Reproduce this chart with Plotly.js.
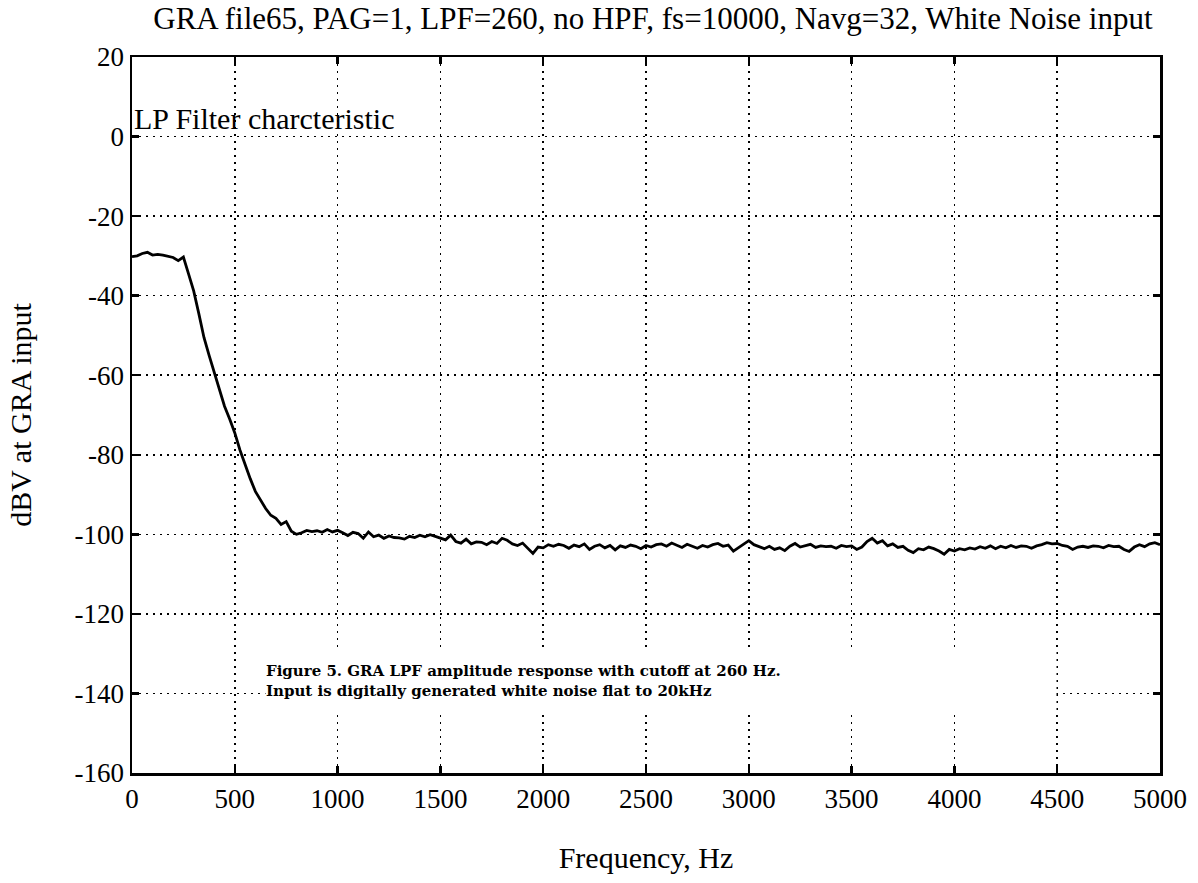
<!DOCTYPE html>
<html>
<head>
<meta charset="utf-8">
<script src="https://cdn.plot.ly/plotly-3.0.1.min.js"></script>
<style>
html,body{margin:0;padding:0;background:#fff;}
#chart{width:1198px;height:883px;}
</style>
</head>
<body>
<div id="chart"></div>
<script>
// Frequency grid: starts at 0 Hz, one value every 25 Hz up to 5000 Hz
const freqStart = 0;
const freqStep = 25;

// dBV at GRA input (0, 25, 50, ... 5000 Hz)
const dbv = [
  -30.2, -30.0, -29.4, -29.1, -29.8, -29.6, -29.8, -30.1, -30.4, -31.2,   // 0-225
  -30.3, -34.5, -38.8, -44.5, -50.5, -55.0, -59.3, -63.5, -67.8, -71.0,   // 250-475
  -74.5, -78.8, -82.5, -86.0, -89.2, -91.5, -93.5, -95.2, -96.0, -97.5,   // 500-725
  -96.8, -99.2, -100.0, -99.6, -99.0, -99.3, -99.1, -99.5, -98.8, -99.4,  // 750-975
  -99.0, -99.6, -100.3, -99.5, -99.8, -101.0, -99.4, -100.6, -100.2, -101.0, // 1000-1225
  -100.4, -100.8, -100.9, -101.2, -100.5, -100.8, -100.2, -100.6, -100.1, -100.5, // 1250-1475
  -100.9, -101.4, -100.2, -101.8, -102.2, -101.2, -102.4, -101.9, -102.0, -102.6, // 1500-1725
  -101.8, -102.3, -101.0, -101.5, -102.4, -102.8, -102.2, -103.4, -104.8, -103.2, // 1750-1975
  -103.4, -102.6, -103.0, -102.5, -102.8, -103.5, -102.7, -103.1, -102.4, -103.8, // 2000-2225
  -103.0, -102.6, -103.4, -102.8, -103.9, -102.9, -103.3, -102.7, -103.0, -103.6, // 2250-2475
  -102.8, -103.2, -102.6, -102.4, -103.0, -102.2, -102.8, -103.3, -102.5, -103.1, // 2500-2725
  -103.5, -102.8, -103.2, -102.6, -102.3, -103.0, -102.7, -104.2, -103.4, -102.5, // 2750-2975
  -101.6, -102.6, -103.2, -103.6, -103.0, -103.8, -103.4, -104.1, -103.0, -102.3, // 3000-3225
  -103.2, -102.8, -102.5, -103.3, -102.9, -103.1, -103.0, -103.5, -102.8, -103.1, // 3250-3475
  -102.9, -103.8, -103.2, -101.8, -101.0, -102.2, -101.6, -102.9, -102.4, -103.3, // 3500-3725
  -103.0, -104.0, -104.6, -103.6, -103.9, -103.2, -103.6, -104.2, -105.0, -103.8, // 3750-3975
  -104.2, -103.6, -103.9, -103.4, -103.7, -103.1, -103.5, -102.9, -103.6, -103.0, // 4000-4225
  -103.4, -102.8, -103.3, -102.9, -103.0, -103.5, -102.9, -102.6, -102.1, -102.4, // 4250-4475
  -102.3, -102.8, -103.0, -103.8, -103.2, -103.0, -103.3, -102.9, -103.0, -103.4, // 4500-4725
  -102.8, -103.1, -103.0, -103.8, -104.3, -103.2, -102.6, -103.1, -102.4, -102.1, // 4750-4975
  -102.6                                                                   // 5000
];

const xTickVals = [0, 500, 1000, 1500, 2000, 2500, 3000, 3500, 4000, 4500, 5000];
const xTickText = ['0', '500', '1000', '1500', '2000', '2500', '3000', '3500', '4000', '4500', '5000'];
const yTickVals = [20, 0, -20, -40, -60, -80, -100, -120, -140, -160];
const yTickText = ['20', '0', '-20', '-40', '-60', '-80', '-100', '-120', '-140', '-160'];

const titleText = 'GRA file65, PAG=1, LPF=260, no HPF, fs=10000, Navg=32, White Noise input';
const xTitle = 'Frequency, Hz';
const yTitle = 'dBV at GRA input';
const noteText = 'LP Filter charcteristic';
const captionLines = [
  'Figure 5. GRA LPF amplitude response with cutoff at 260 Hz.',
  'Input is digitally generated white noise flat to 20kHz'
];

const serif = 'Liberation Serif, Times New Roman, serif';

const trace = {
  type: 'scatter',
  mode: 'lines',
  x0: freqStart,
  dx: freqStep,
  y: dbv,
  line: {color: '#000', width: 2.8},
  hoverinfo: 'x+y'
};

const axisCommon = {
  showgrid: true,
  gridcolor: '#000',
  griddash: '2px,5px',
  gridwidth: 1.6,
  zeroline: false,
  showline: true,
  linecolor: '#000',
  linewidth: 2.5,
  mirror: 'ticks',
  ticks: 'inside',
  ticklen: 7,
  tickwidth: 2.5,
  tickcolor: '#000',
  tickfont: {family: serif, size: 27, color: '#000'}
};

const layout = {
  width: 1198,
  height: 883,
  paper_bgcolor: '#fff',
  plot_bgcolor: '#fff',
  showlegend: false,
  margin: {l: 132, r: 38, t: 57, b: 110},
  title: {
    text: titleText,
    font: {family: serif, size: 31, color: '#000'},
    x: 0.545,
    xanchor: 'center',
    y: 0.979,
    yanchor: 'middle'
  },
  xaxis: Object.assign({}, axisCommon, {
    range: [0, 5000],
    tickmode: 'array',
    tickvals: xTickVals,
    ticktext: xTickText,
    title: {text: xTitle, font: {family: serif, size: 30, color: '#000'}, standoff: 34}
  }),
  yaxis: Object.assign({}, axisCommon, {
    range: [-160, 20],
    tickmode: 'array',
    tickvals: yTickVals,
    ticktext: yTickText,
    title: {text: yTitle, font: {family: serif, size: 30, color: '#000'}, standoff: 34}
  }),
  annotations: [
    {
      x: 0, y: 0, xref: 'x', yref: 'y',
      xanchor: 'left', yanchor: 'bottom',
      yshift: 0,
      text: noteText, showarrow: false,
      font: {family: serif, size: 30, color: '#000'}
    },
    {
      x: 648, y: -140, xref: 'x', yref: 'y',
      xanchor: 'left', yanchor: 'middle',
      yshift: 12,
      width: 790,
      height: 62,
      align: 'left',
      borderpad: 0,
      text: captionLines.map(s => '<b>' + s + '</b>').join('<br>'),
      showarrow: false,
      bgcolor: '#fff',
      font: {family: 'DejaVu Serif, serif', size: 15, color: '#000'}
    }
  ]
};

Plotly.newPlot('chart', [trace], layout, {displayModeBar: false, staticPlot: true});
</script>
</body>
</html>
